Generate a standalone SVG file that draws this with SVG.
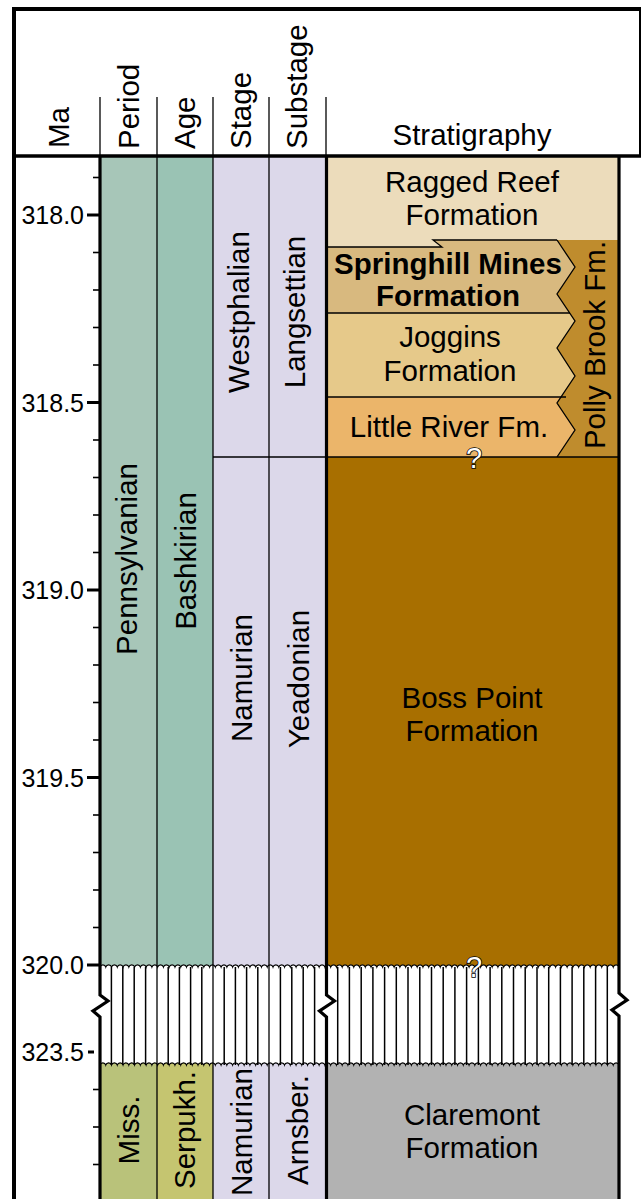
<svg xmlns="http://www.w3.org/2000/svg" width="641" height="1199" viewBox="0 0 641 1199">
<style>
.t{font-family:"Liberation Sans",Arial,Helvetica,sans-serif;font-size:29.5px;fill:#000}
.tk{font-family:"Liberation Sans",Arial,Helvetica,sans-serif;font-size:25px;fill:#000;text-anchor:end}
.m{text-anchor:middle}
.b{font-weight:bold}
.q{font-family:"Liberation Sans",Arial,Helvetica,sans-serif;font-size:29px;fill:#fff;stroke:#000;stroke-width:1.6;paint-order:stroke;text-anchor:middle}
.thin{stroke:#000;stroke-width:1.3;fill:none}
.bd{stroke:#000;stroke-width:1.3}
.thick{stroke:#000;stroke-width:3.2;fill:none}
.maj{stroke:#000;stroke-width:3}
.min{stroke:#000;stroke-width:1.6}
.vl{stroke:#000;stroke-width:1.5}
</style>

<g id="frame">
  <line x1="12" y1="9" x2="641" y2="9" stroke="#000" stroke-width="4"/>
  <line x1="14" y1="7" x2="14" y2="1199" stroke="#000" stroke-width="4"/>
  <line x1="640" y1="9" x2="640" y2="157" stroke="#000" stroke-width="2"/>
</g>

<g id="header">
  <g class="thin">
    <line x1="100" y1="97" x2="100" y2="156"/>
    <line x1="157" y1="97" x2="157" y2="156"/>
    <line x1="213" y1="97" x2="213" y2="156"/>
    <line x1="269" y1="97" x2="269" y2="156"/>
    <line x1="326" y1="97" x2="326" y2="156"/>
  </g>
  <text class="t" transform="translate(69,148) rotate(-90)">Ma</text>
  <text class="t" transform="translate(139,149) rotate(-90)">Period</text>
  <text class="t" transform="translate(195,149) rotate(-90)">Age</text>
  <text class="t" transform="translate(251,149) rotate(-90)">Stage</text>
  <text class="t" transform="translate(307,149) rotate(-90)">Substage</text>
  <text class="t m" x="472" y="145">Stratigraphy</text>
</g>

<g id="period-pennsylvanian">
  <rect x="100" y="157" width="57" height="811" fill="#a7c6b8"/>
  <text class="t m" transform="translate(137,559) rotate(-90)">Pennsylvanian</text>
</g>
<g id="age-bashkirian">
  <rect x="157" y="157" width="56" height="811" fill="#9ac3b4"/>
  <text class="t m" transform="translate(196,561) rotate(-90)">Bashkirian</text>
</g>
<g id="stage-westphalian">
  <rect x="213" y="157" width="56" height="300" fill="#dcd8ea"/>
  <text class="t m" transform="translate(249,312) rotate(-90)">Westphalian</text>
</g>
<g id="substage-langsettian">
  <rect x="269" y="157" width="57" height="300" fill="#dcd8ea"/>
  <text class="t m" transform="translate(305,312) rotate(-90)">Langsettian</text>
</g>
<g id="stage-namurian">
  <rect x="213" y="457" width="56" height="511" fill="#dcd8ea"/>
  <text class="t m" transform="translate(252,678) rotate(-90)">Namurian</text>
</g>
<g id="substage-yeadonian">
  <rect x="269" y="457" width="57" height="511" fill="#dcd8ea"/>
  <text class="t m" transform="translate(309,679) rotate(-90)">Yeadonian</text>
</g>

<g id="ragged-reef">
  <rect x="326" y="157" width="293" height="92" fill="#ecdcbb"/>
  <text class="t m" x="472" y="192">Ragged Reef</text>
  <text class="t m" x="472" y="225">Formation</text>
</g>
<g id="springhill-mines">
  <polygon points="326,247 442,247 433,240 619,240 619,313 326,313" fill="#d8b97f"/>
  <text class="t m b" x="448" y="274">Springhill Mines</text>
  <text class="t m b" x="448" y="306">Formation</text>
</g>
<g id="joggins">
  <rect x="326" y="313" width="293" height="84" fill="#e6c98a"/>
  <text class="t m" x="450" y="347">Joggins</text>
  <text class="t m" x="450" y="381">Formation</text>
</g>
<g id="little-river">
  <rect x="326" y="397" width="293" height="60" fill="#ebb56a"/>
  <text class="t m" x="449" y="437">Little River Fm.</text>
</g>
<g id="polly-brook">
  <polygon points="557,240 575,267 557,294 575,321 557,348 575,376 557,403 575,430 557,457 619,457 619,240" fill="#bf8c2d"/>
  <polyline class="thin" points="557,240 575,267 557,294 575,321 557,348 575,376 557,403 575,430 557,457"/>
  <text class="t m" transform="translate(605,345) rotate(-90)">Polly Brook Fm.</text>
</g>
<g id="boss-point">
  <rect x="326" y="457" width="293" height="511" fill="#a86f00"/>
  <text class="t m" x="472" y="708">Boss Point</text>
  <text class="t m" x="472" y="741">Formation</text>
</g>

<g id="period-miss">
  <rect x="100" y="1062" width="57" height="137" fill="#b9c27a"/>
  <text class="t m" transform="translate(139,1130) rotate(-90)">Miss.</text>
</g>
<g id="age-serpukh">
  <rect x="157" y="1062" width="56" height="137" fill="#c5c570"/>
  <text class="t m" transform="translate(195,1130) rotate(-90)">Serpukh.</text>
</g>
<g id="stage-namurian-lower">
  <rect x="213" y="1062" width="56" height="137" fill="#dcd8ea"/>
  <text class="t m" transform="translate(252,1132) rotate(-90)">Namurian</text>
</g>
<g id="substage-arnsber">
  <rect x="269" y="1062" width="57" height="137" fill="#dcd8ea"/>
  <text class="t m" transform="translate(308,1130) rotate(-90)">Arnsber.</text>
</g>
<g id="claremont">
  <rect x="326" y="1062" width="293" height="137" fill="#b2b2b2"/>
  <text class="t m" x="472" y="1125">Claremont</text>
  <text class="t m" x="472" y="1158">Formation</text>
</g>

<g id="boundaries">
  <polyline class="thin" points="326,247 442,247 433,240 557,240"/>
  <line class="bd" x1="326" y1="313" x2="570" y2="313"/>
  <line class="bd" x1="326" y1="397" x2="566" y2="397"/>
  <line class="bd" x1="213" y1="457" x2="619" y2="457"/>
</g>

<g id="break">
  <path fill="#fff" stroke="none" d="M100,967
a3 3 0 0 1 5.767 0 a3 3 0 0 1 5.767 0 a3 3 0 0 1 5.767 0 a3 3 0 0 1 5.767 0 a3 3 0 0 1 5.767 0 a3 3 0 0 1 5.767 0 a3 3 0 0 1 5.767 0 a3 3 0 0 1 5.767 0 a3 3 0 0 1 5.767 0 a3 3 0 0 1 5.767 0
a3 3 0 0 1 5.767 0 a3 3 0 0 1 5.767 0 a3 3 0 0 1 5.767 0 a3 3 0 0 1 5.767 0 a3 3 0 0 1 5.767 0 a3 3 0 0 1 5.767 0 a3 3 0 0 1 5.767 0 a3 3 0 0 1 5.767 0 a3 3 0 0 1 5.767 0 a3 3 0 0 1 5.767 0
a3 3 0 0 1 5.767 0 a3 3 0 0 1 5.767 0 a3 3 0 0 1 5.767 0 a3 3 0 0 1 5.767 0 a3 3 0 0 1 5.767 0 a3 3 0 0 1 5.767 0 a3 3 0 0 1 5.767 0 a3 3 0 0 1 5.767 0 a3 3 0 0 1 5.767 0 a3 3 0 0 1 5.767 0
a3 3 0 0 1 5.767 0 a3 3 0 0 1 5.767 0 a3 3 0 0 1 5.767 0 a3 3 0 0 1 5.767 0 a3 3 0 0 1 5.767 0 a3 3 0 0 1 5.767 0 a3 3 0 0 1 5.767 0 a3 3 0 0 1 5.767 0 a3 3 0 0 1 5.767 0 a3 3 0 0 1 5.767 0
a3 3 0 0 1 5.767 0 a3 3 0 0 1 5.767 0 a3 3 0 0 1 5.767 0 a3 3 0 0 1 5.767 0 a3 3 0 0 1 5.767 0 a3 3 0 0 1 5.767 0 a3 3 0 0 1 5.767 0 a3 3 0 0 1 5.767 0 a3 3 0 0 1 5.767 0 a3 3 0 0 1 5.767 0
a3 3 0 0 1 5.767 0 a3 3 0 0 1 5.767 0 a3 3 0 0 1 5.767 0 a3 3 0 0 1 5.767 0 a3 3 0 0 1 5.767 0 a3 3 0 0 1 5.767 0 a3 3 0 0 1 5.767 0 a3 3 0 0 1 5.767 0 a3 3 0 0 1 5.767 0 a3 3 0 0 1 5.767 0
a3 3 0 0 1 5.767 0 a3 3 0 0 1 5.767 0 a3 3 0 0 1 5.767 0 a3 3 0 0 1 5.767 0 a3 3 0 0 1 5.767 0 a3 3 0 0 1 5.767 0 a3 3 0 0 1 5.767 0 a3 3 0 0 1 5.767 0 a3 3 0 0 1 5.767 0 a3 3 0 0 1 5.767 0
a3 3 0 0 1 5.767 0 a3 3 0 0 1 5.767 0 a3 3 0 0 1 5.767 0 a3 3 0 0 1 5.767 0 a3 3 0 0 1 5.767 0 a3 3 0 0 1 5.767 0 a3 3 0 0 1 5.767 0 a3 3 0 0 1 5.767 0 a3 3 0 0 1 5.767 0 a3 3 0 0 1 5.767 0
a3 3 0 0 1 5.767 0 a3 3 0 0 1 5.767 0 a3 3 0 0 1 5.767 0 a3 3 0 0 1 5.767 0 a3 3 0 0 1 5.767 0 a3 3 0 0 1 5.767 0 a3 3 0 0 1 5.767 0 a3 3 0 0 1 5.767 0 a3 3 0 0 1 5.767 0 a3 3 0 0 1 5.767 0
L619,1065
a3 3 0 0 0 -5.767 0 a3 3 0 0 0 -5.767 0 a3 3 0 0 0 -5.767 0 a3 3 0 0 0 -5.767 0 a3 3 0 0 0 -5.767 0 a3 3 0 0 0 -5.767 0 a3 3 0 0 0 -5.767 0 a3 3 0 0 0 -5.767 0 a3 3 0 0 0 -5.767 0 a3 3 0 0 0 -5.767 0
a3 3 0 0 0 -5.767 0 a3 3 0 0 0 -5.767 0 a3 3 0 0 0 -5.767 0 a3 3 0 0 0 -5.767 0 a3 3 0 0 0 -5.767 0 a3 3 0 0 0 -5.767 0 a3 3 0 0 0 -5.767 0 a3 3 0 0 0 -5.767 0 a3 3 0 0 0 -5.767 0 a3 3 0 0 0 -5.767 0
a3 3 0 0 0 -5.767 0 a3 3 0 0 0 -5.767 0 a3 3 0 0 0 -5.767 0 a3 3 0 0 0 -5.767 0 a3 3 0 0 0 -5.767 0 a3 3 0 0 0 -5.767 0 a3 3 0 0 0 -5.767 0 a3 3 0 0 0 -5.767 0 a3 3 0 0 0 -5.767 0 a3 3 0 0 0 -5.767 0
a3 3 0 0 0 -5.767 0 a3 3 0 0 0 -5.767 0 a3 3 0 0 0 -5.767 0 a3 3 0 0 0 -5.767 0 a3 3 0 0 0 -5.767 0 a3 3 0 0 0 -5.767 0 a3 3 0 0 0 -5.767 0 a3 3 0 0 0 -5.767 0 a3 3 0 0 0 -5.767 0 a3 3 0 0 0 -5.767 0
a3 3 0 0 0 -5.767 0 a3 3 0 0 0 -5.767 0 a3 3 0 0 0 -5.767 0 a3 3 0 0 0 -5.767 0 a3 3 0 0 0 -5.767 0 a3 3 0 0 0 -5.767 0 a3 3 0 0 0 -5.767 0 a3 3 0 0 0 -5.767 0 a3 3 0 0 0 -5.767 0 a3 3 0 0 0 -5.767 0
a3 3 0 0 0 -5.767 0 a3 3 0 0 0 -5.767 0 a3 3 0 0 0 -5.767 0 a3 3 0 0 0 -5.767 0 a3 3 0 0 0 -5.767 0 a3 3 0 0 0 -5.767 0 a3 3 0 0 0 -5.767 0 a3 3 0 0 0 -5.767 0 a3 3 0 0 0 -5.767 0 a3 3 0 0 0 -5.767 0
a3 3 0 0 0 -5.767 0 a3 3 0 0 0 -5.767 0 a3 3 0 0 0 -5.767 0 a3 3 0 0 0 -5.767 0 a3 3 0 0 0 -5.767 0 a3 3 0 0 0 -5.767 0 a3 3 0 0 0 -5.767 0 a3 3 0 0 0 -5.767 0 a3 3 0 0 0 -5.767 0 a3 3 0 0 0 -5.767 0
a3 3 0 0 0 -5.767 0 a3 3 0 0 0 -5.767 0 a3 3 0 0 0 -5.767 0 a3 3 0 0 0 -5.767 0 a3 3 0 0 0 -5.767 0 a3 3 0 0 0 -5.767 0 a3 3 0 0 0 -5.767 0 a3 3 0 0 0 -5.767 0 a3 3 0 0 0 -5.767 0 a3 3 0 0 0 -5.767 0
a3 3 0 0 0 -5.767 0 a3 3 0 0 0 -5.767 0 a3 3 0 0 0 -5.767 0 a3 3 0 0 0 -5.767 0 a3 3 0 0 0 -5.767 0 a3 3 0 0 0 -5.767 0 a3 3 0 0 0 -5.767 0 a3 3 0 0 0 -5.767 0 a3 3 0 0 0 -5.767 0 a3 3 0 0 0 -5.767 0
Z"/>
  <g class="vl">
    <line x1="111.4" y1="967" x2="111.4" y2="1065"/><line x1="122.8" y1="967" x2="122.8" y2="1065"/><line x1="134.2" y1="967" x2="134.2" y2="1065"/><line x1="145.6" y1="967" x2="145.6" y2="1065"/>
    <line x1="168.2" y1="967" x2="168.2" y2="1065"/><line x1="179.4" y1="967" x2="179.4" y2="1065"/><line x1="190.6" y1="967" x2="190.6" y2="1065"/><line x1="201.8" y1="967" x2="201.8" y2="1065"/>
    <line x1="224.2" y1="967" x2="224.2" y2="1065"/><line x1="235.4" y1="967" x2="235.4" y2="1065"/><line x1="246.6" y1="967" x2="246.6" y2="1065"/><line x1="257.8" y1="967" x2="257.8" y2="1065"/>
    <line x1="280.4" y1="967" x2="280.4" y2="1065"/><line x1="291.8" y1="967" x2="291.8" y2="1065"/><line x1="303.2" y1="967" x2="303.2" y2="1065"/><line x1="314.6" y1="967" x2="314.6" y2="1065"/>
    <line x1="337.7" y1="967" x2="337.7" y2="1065"/><line x1="349.4" y1="967" x2="349.4" y2="1065"/><line x1="361.2" y1="967" x2="361.2" y2="1065"/><line x1="372.9" y1="967" x2="372.9" y2="1065"/><line x1="384.6" y1="967" x2="384.6" y2="1065"/><line x1="396.3" y1="967" x2="396.3" y2="1065"/><line x1="408" y1="967" x2="408" y2="1065"/><line x1="419.8" y1="967" x2="419.8" y2="1065"/><line x1="431.5" y1="967" x2="431.5" y2="1065"/><line x1="443.2" y1="967" x2="443.2" y2="1065"/><line x1="454.9" y1="967" x2="454.9" y2="1065"/><line x1="466.6" y1="967" x2="466.6" y2="1065"/><line x1="478.4" y1="967" x2="478.4" y2="1065"/><line x1="490.1" y1="967" x2="490.1" y2="1065"/><line x1="501.8" y1="967" x2="501.8" y2="1065"/><line x1="513.5" y1="967" x2="513.5" y2="1065"/><line x1="525.2" y1="967" x2="525.2" y2="1065"/><line x1="537" y1="967" x2="537" y2="1065"/><line x1="548.7" y1="967" x2="548.7" y2="1065"/><line x1="560.4" y1="967" x2="560.4" y2="1065"/><line x1="572.1" y1="967" x2="572.1" y2="1065"/><line x1="583.8" y1="967" x2="583.8" y2="1065"/><line x1="595.6" y1="967" x2="595.6" y2="1065"/><line x1="607.3" y1="967" x2="607.3" y2="1065"/>
  </g>
  <path fill="none" stroke="#000" stroke-width="1.1" d="M100,967
a3 3 0 0 1 5.767 0 a3 3 0 0 1 5.767 0 a3 3 0 0 1 5.767 0 a3 3 0 0 1 5.767 0 a3 3 0 0 1 5.767 0 a3 3 0 0 1 5.767 0 a3 3 0 0 1 5.767 0 a3 3 0 0 1 5.767 0 a3 3 0 0 1 5.767 0 a3 3 0 0 1 5.767 0
a3 3 0 0 1 5.767 0 a3 3 0 0 1 5.767 0 a3 3 0 0 1 5.767 0 a3 3 0 0 1 5.767 0 a3 3 0 0 1 5.767 0 a3 3 0 0 1 5.767 0 a3 3 0 0 1 5.767 0 a3 3 0 0 1 5.767 0 a3 3 0 0 1 5.767 0 a3 3 0 0 1 5.767 0
a3 3 0 0 1 5.767 0 a3 3 0 0 1 5.767 0 a3 3 0 0 1 5.767 0 a3 3 0 0 1 5.767 0 a3 3 0 0 1 5.767 0 a3 3 0 0 1 5.767 0 a3 3 0 0 1 5.767 0 a3 3 0 0 1 5.767 0 a3 3 0 0 1 5.767 0 a3 3 0 0 1 5.767 0
a3 3 0 0 1 5.767 0 a3 3 0 0 1 5.767 0 a3 3 0 0 1 5.767 0 a3 3 0 0 1 5.767 0 a3 3 0 0 1 5.767 0 a3 3 0 0 1 5.767 0 a3 3 0 0 1 5.767 0 a3 3 0 0 1 5.767 0 a3 3 0 0 1 5.767 0 a3 3 0 0 1 5.767 0
a3 3 0 0 1 5.767 0 a3 3 0 0 1 5.767 0 a3 3 0 0 1 5.767 0 a3 3 0 0 1 5.767 0 a3 3 0 0 1 5.767 0 a3 3 0 0 1 5.767 0 a3 3 0 0 1 5.767 0 a3 3 0 0 1 5.767 0 a3 3 0 0 1 5.767 0 a3 3 0 0 1 5.767 0
a3 3 0 0 1 5.767 0 a3 3 0 0 1 5.767 0 a3 3 0 0 1 5.767 0 a3 3 0 0 1 5.767 0 a3 3 0 0 1 5.767 0 a3 3 0 0 1 5.767 0 a3 3 0 0 1 5.767 0 a3 3 0 0 1 5.767 0 a3 3 0 0 1 5.767 0 a3 3 0 0 1 5.767 0
a3 3 0 0 1 5.767 0 a3 3 0 0 1 5.767 0 a3 3 0 0 1 5.767 0 a3 3 0 0 1 5.767 0 a3 3 0 0 1 5.767 0 a3 3 0 0 1 5.767 0 a3 3 0 0 1 5.767 0 a3 3 0 0 1 5.767 0 a3 3 0 0 1 5.767 0 a3 3 0 0 1 5.767 0
a3 3 0 0 1 5.767 0 a3 3 0 0 1 5.767 0 a3 3 0 0 1 5.767 0 a3 3 0 0 1 5.767 0 a3 3 0 0 1 5.767 0 a3 3 0 0 1 5.767 0 a3 3 0 0 1 5.767 0 a3 3 0 0 1 5.767 0 a3 3 0 0 1 5.767 0 a3 3 0 0 1 5.767 0
a3 3 0 0 1 5.767 0 a3 3 0 0 1 5.767 0 a3 3 0 0 1 5.767 0 a3 3 0 0 1 5.767 0 a3 3 0 0 1 5.767 0 a3 3 0 0 1 5.767 0 a3 3 0 0 1 5.767 0 a3 3 0 0 1 5.767 0 a3 3 0 0 1 5.767 0 a3 3 0 0 1 5.767 0
M619,1065
a3 3 0 0 0 -5.767 0 a3 3 0 0 0 -5.767 0 a3 3 0 0 0 -5.767 0 a3 3 0 0 0 -5.767 0 a3 3 0 0 0 -5.767 0 a3 3 0 0 0 -5.767 0 a3 3 0 0 0 -5.767 0 a3 3 0 0 0 -5.767 0 a3 3 0 0 0 -5.767 0 a3 3 0 0 0 -5.767 0
a3 3 0 0 0 -5.767 0 a3 3 0 0 0 -5.767 0 a3 3 0 0 0 -5.767 0 a3 3 0 0 0 -5.767 0 a3 3 0 0 0 -5.767 0 a3 3 0 0 0 -5.767 0 a3 3 0 0 0 -5.767 0 a3 3 0 0 0 -5.767 0 a3 3 0 0 0 -5.767 0 a3 3 0 0 0 -5.767 0
a3 3 0 0 0 -5.767 0 a3 3 0 0 0 -5.767 0 a3 3 0 0 0 -5.767 0 a3 3 0 0 0 -5.767 0 a3 3 0 0 0 -5.767 0 a3 3 0 0 0 -5.767 0 a3 3 0 0 0 -5.767 0 a3 3 0 0 0 -5.767 0 a3 3 0 0 0 -5.767 0 a3 3 0 0 0 -5.767 0
a3 3 0 0 0 -5.767 0 a3 3 0 0 0 -5.767 0 a3 3 0 0 0 -5.767 0 a3 3 0 0 0 -5.767 0 a3 3 0 0 0 -5.767 0 a3 3 0 0 0 -5.767 0 a3 3 0 0 0 -5.767 0 a3 3 0 0 0 -5.767 0 a3 3 0 0 0 -5.767 0 a3 3 0 0 0 -5.767 0
a3 3 0 0 0 -5.767 0 a3 3 0 0 0 -5.767 0 a3 3 0 0 0 -5.767 0 a3 3 0 0 0 -5.767 0 a3 3 0 0 0 -5.767 0 a3 3 0 0 0 -5.767 0 a3 3 0 0 0 -5.767 0 a3 3 0 0 0 -5.767 0 a3 3 0 0 0 -5.767 0 a3 3 0 0 0 -5.767 0
a3 3 0 0 0 -5.767 0 a3 3 0 0 0 -5.767 0 a3 3 0 0 0 -5.767 0 a3 3 0 0 0 -5.767 0 a3 3 0 0 0 -5.767 0 a3 3 0 0 0 -5.767 0 a3 3 0 0 0 -5.767 0 a3 3 0 0 0 -5.767 0 a3 3 0 0 0 -5.767 0 a3 3 0 0 0 -5.767 0
a3 3 0 0 0 -5.767 0 a3 3 0 0 0 -5.767 0 a3 3 0 0 0 -5.767 0 a3 3 0 0 0 -5.767 0 a3 3 0 0 0 -5.767 0 a3 3 0 0 0 -5.767 0 a3 3 0 0 0 -5.767 0 a3 3 0 0 0 -5.767 0 a3 3 0 0 0 -5.767 0 a3 3 0 0 0 -5.767 0
a3 3 0 0 0 -5.767 0 a3 3 0 0 0 -5.767 0 a3 3 0 0 0 -5.767 0 a3 3 0 0 0 -5.767 0 a3 3 0 0 0 -5.767 0 a3 3 0 0 0 -5.767 0 a3 3 0 0 0 -5.767 0 a3 3 0 0 0 -5.767 0 a3 3 0 0 0 -5.767 0 a3 3 0 0 0 -5.767 0
a3 3 0 0 0 -5.767 0 a3 3 0 0 0 -5.767 0 a3 3 0 0 0 -5.767 0 a3 3 0 0 0 -5.767 0 a3 3 0 0 0 -5.767 0 a3 3 0 0 0 -5.767 0 a3 3 0 0 0 -5.767 0 a3 3 0 0 0 -5.767 0 a3 3 0 0 0 -5.767 0 a3 3 0 0 0 -5.767 0"/>
</g>

<g id="column-lines">
  <line x1="14" y1="156" x2="641" y2="156" stroke="#000" stroke-width="3.5"/>
  <g class="thin">
    <line x1="157" y1="156" x2="157" y2="1199"/>
    <line x1="213" y1="156" x2="213" y2="1199"/>
    <line x1="269" y1="156" x2="269" y2="1199"/>
  </g>
  <path class="thick" d="M100,156 V995 l8,6 l-15,10 l7,6 V1199"/>
  <path class="thick" d="M326.5,156 V995 l8,6 l-15,10 l7,6 V1199" stroke-width="3.6"/>
  <path class="thick" d="M619,156 V993 l8,7 l-15,10 l7,6 V1199"/>
</g>

<g id="ma-scale">
  <g class="maj">
    <line x1="87" y1="215" x2="100" y2="215"/>
    <line x1="87" y1="402.5" x2="100" y2="402.5"/>
    <line x1="87" y1="590" x2="100" y2="590"/>
    <line x1="87" y1="777.5" x2="100" y2="777.5"/>
    <line x1="87" y1="965" x2="100" y2="965"/>
    <line x1="88" y1="1052" x2="94" y2="1052"/>
  </g>
  <g class="min">
    <line x1="93" y1="177.5" x2="100" y2="177.5"/>
    <line x1="93" y1="252.5" x2="100" y2="252.5"/>
    <line x1="93" y1="290" x2="100" y2="290"/>
    <line x1="93" y1="327.5" x2="100" y2="327.5"/>
    <line x1="93" y1="365" x2="100" y2="365"/>
    <line x1="93" y1="440" x2="100" y2="440"/>
    <line x1="93" y1="477.5" x2="100" y2="477.5"/>
    <line x1="93" y1="515" x2="100" y2="515"/>
    <line x1="93" y1="552.5" x2="100" y2="552.5"/>
    <line x1="93" y1="627.5" x2="100" y2="627.5"/>
    <line x1="93" y1="665" x2="100" y2="665"/>
    <line x1="93" y1="702.5" x2="100" y2="702.5"/>
    <line x1="93" y1="740" x2="100" y2="740"/>
    <line x1="93" y1="815" x2="100" y2="815"/>
    <line x1="93" y1="852.5" x2="100" y2="852.5"/>
    <line x1="93" y1="890" x2="100" y2="890"/>
    <line x1="93" y1="927.5" x2="100" y2="927.5"/>
    <line x1="93" y1="1089.5" x2="100" y2="1089.5"/>
    <line x1="93" y1="1127" x2="100" y2="1127"/>
    <line x1="93" y1="1164.5" x2="100" y2="1164.5"/>
  </g>
  <text class="tk" x="84" y="224">318.0</text>
  <text class="tk" x="84" y="411.5">318.5</text>
  <text class="tk" x="84" y="599">319.0</text>
  <text class="tk" x="84" y="786.5">319.5</text>
  <text class="tk" x="84" y="974">320.0</text>
  <text class="tk" x="84" y="1061">323.5</text>
</g>

<g id="uncertain">
  <text class="q" x="474" y="468">?</text>
  <text class="q" x="474" y="977">?</text>
</g>
</svg>
